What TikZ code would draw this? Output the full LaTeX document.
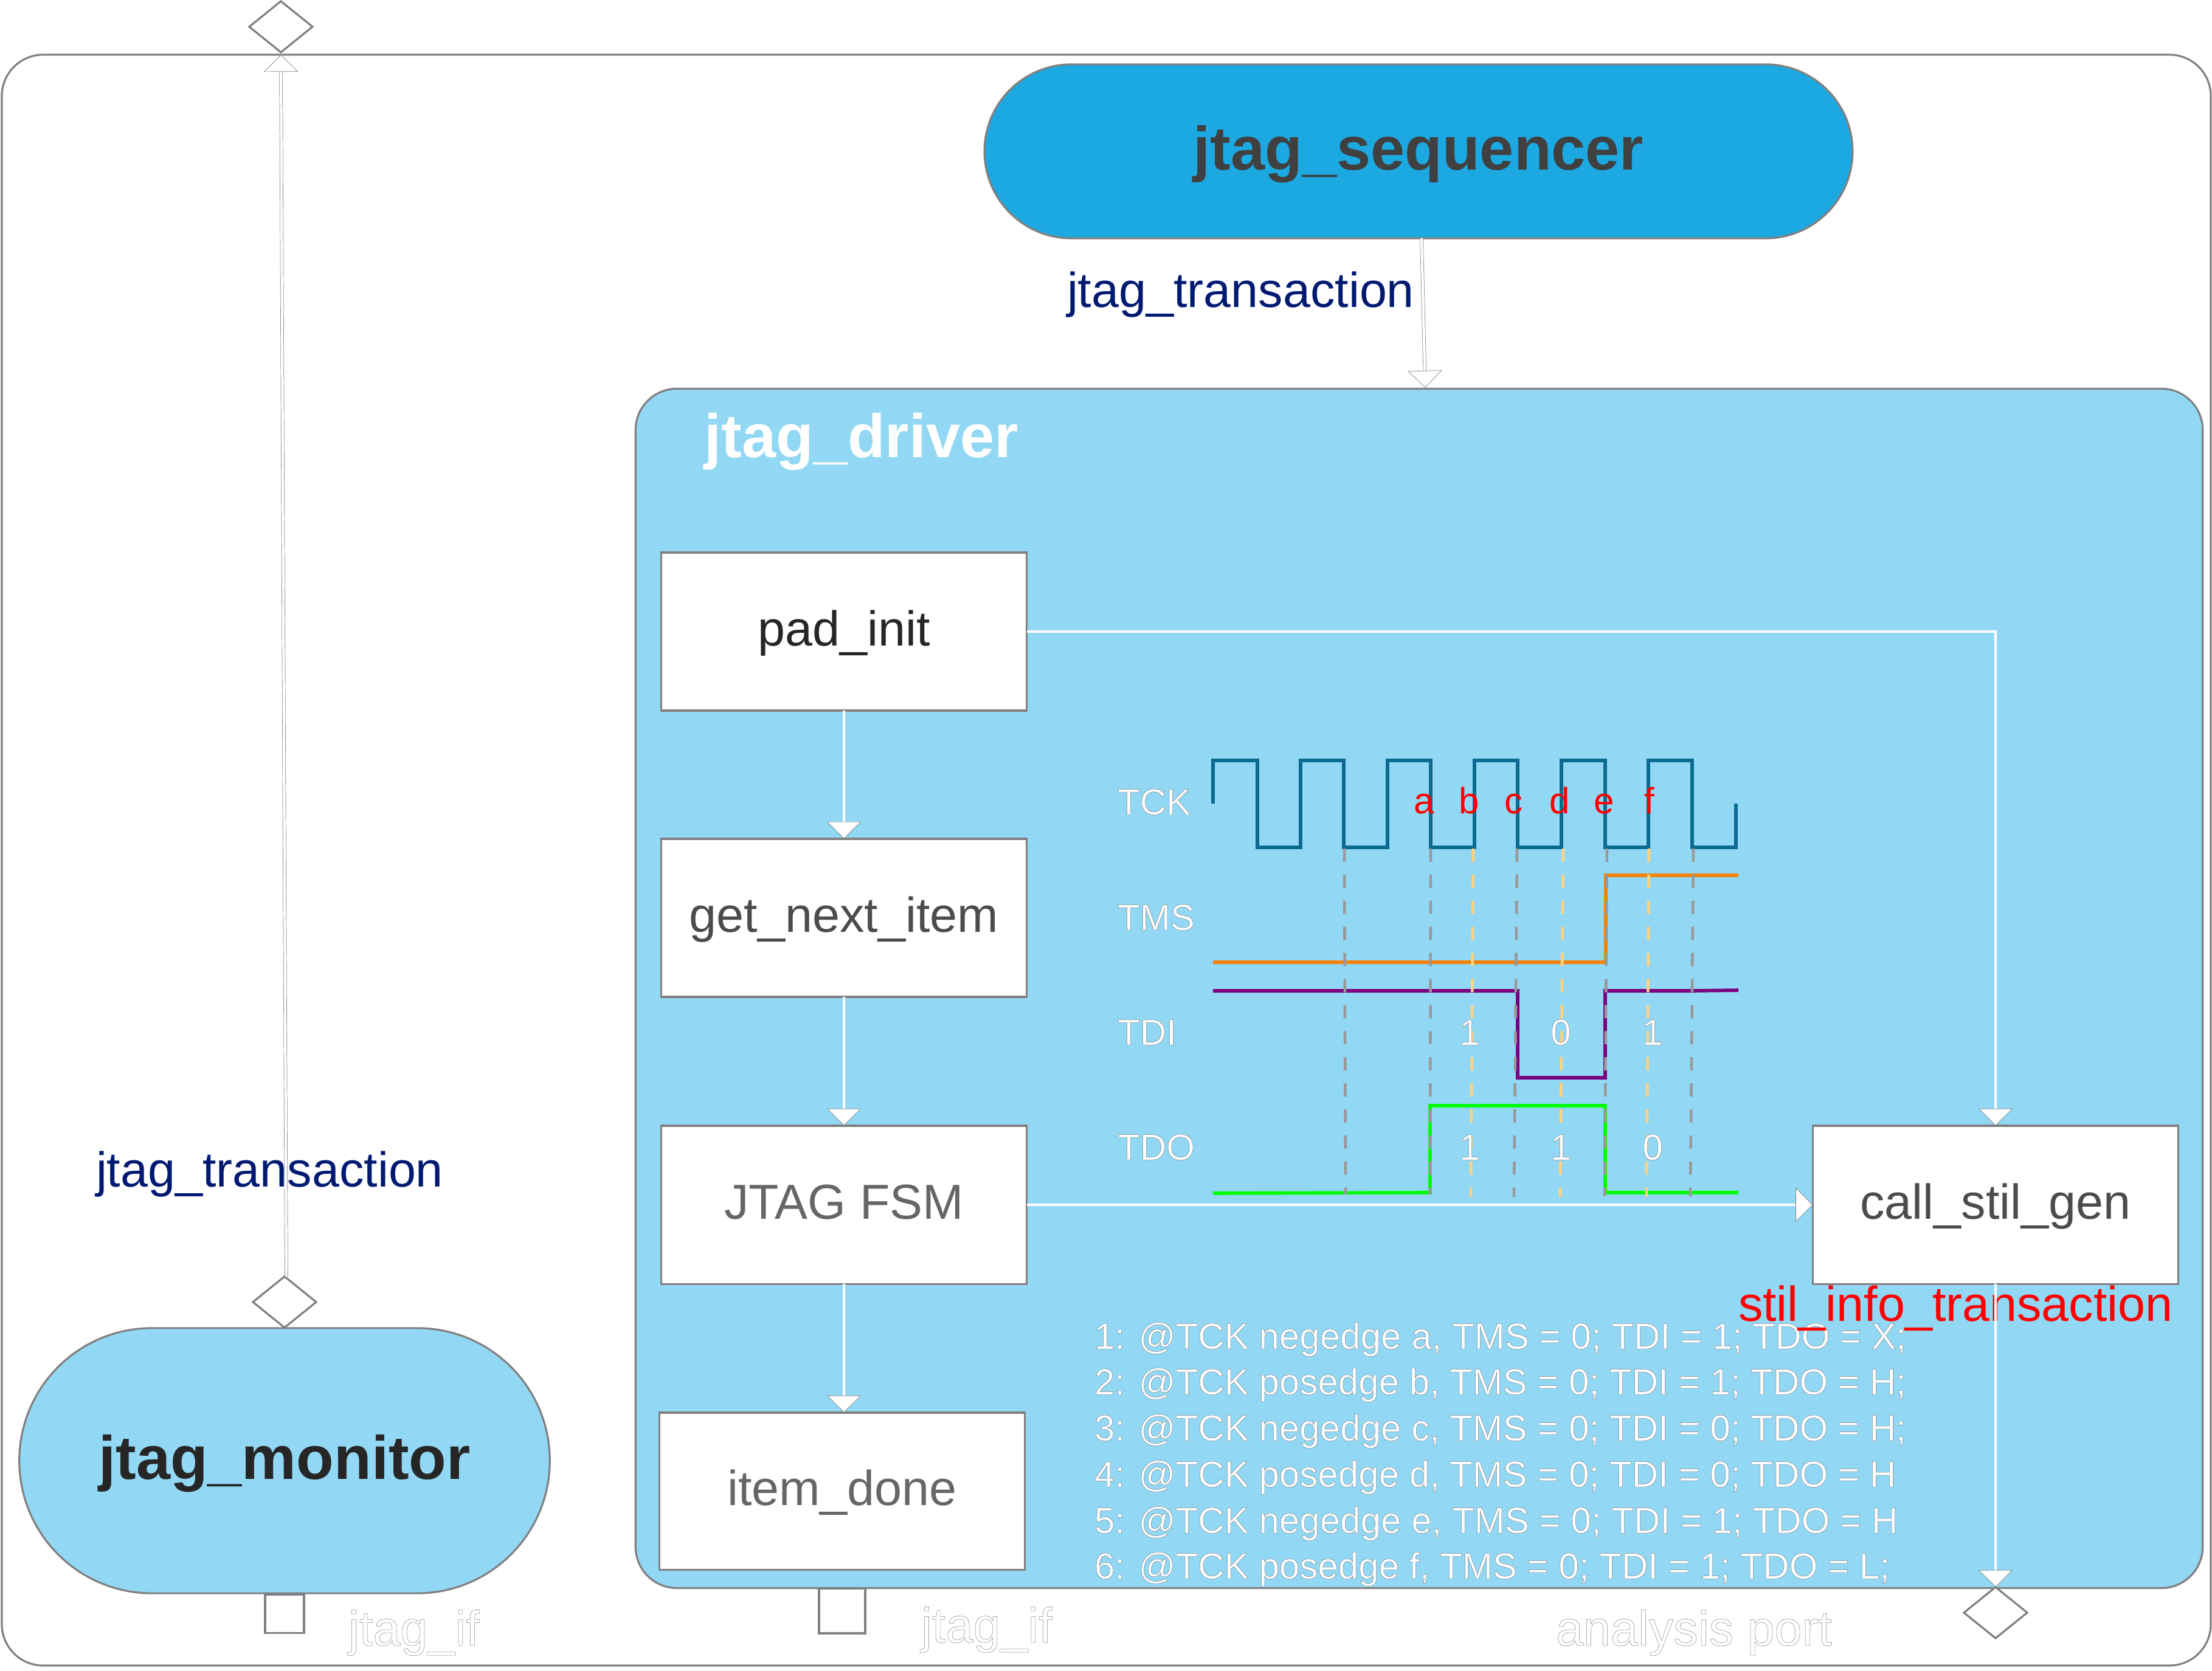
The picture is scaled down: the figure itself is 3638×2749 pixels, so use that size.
\documentclass[tikz,border=0pt]{standalone}
\usepackage{fontspec}
\setmainfont{Liberation Sans}
\usetikzlibrary{arrows.meta,shapes.geometric}

\definecolor{seqblue}{HTML}{1CA9E1}
\definecolor{drvblue}{HTML}{92D8F5}
\definecolor{edgegray}{HTML}{808080}
\definecolor{labelnavy}{HTML}{001A72}
\definecolor{tckteal}{HTML}{0B6A90}
\definecolor{tmsorange}{HTML}{F58200}
\definecolor{tdipurple}{HTML}{7A0080}
\definecolor{dashgray}{HTML}{999999}
\definecolor{dashyellow}{HTML}{FFD27F}

% white letters with a thin grey edge
\newcommand{\outl}[1]{{\color{white}\special{pdf:code 2 Tr .14 w .5 .5 .5 RG}#1\special{pdf:code 0 Tr}}}

\tikzset{
  bigfont/.style={font=\fontsize{23}{27}\selectfont},
  smallfont/.style={font=\fontsize{17.1}{20}\selectfont},
  boldfont/.style={font=\fontsize{28.7}{33}\selectfont\bfseries},
  edge/.style={draw=edgegray, line width=0.9pt},
  stadium/.style={edge, inner sep=0pt, outer sep=0pt, text height=23pt, text depth=5.7pt},
  itembox/.style={edge, fill=white, bigfont, minimum width=6.01cm, minimum height=2.6cm, inner sep=0pt, outer sep=0pt, text height=18.2pt, text depth=4.6pt},
  portdiamond/.style={edge, fill=white, diamond, aspect=1.2, minimum width=1.04cm, minimum height=.84cm, inner sep=0pt, outer sep=0pt},
  portsquare/.style={edge, fill=white, inner sep=0pt, outer sep=0pt},
  freetext/.style={bigfont, anchor=base west, inner sep=0pt, outer sep=0pt},
  wavelabel/.style={smallfont, anchor=base west, inner sep=0pt, outer sep=0pt},
  bitlabel/.style={smallfont, anchor=base, inner sep=0pt, outer sep=0pt},
  redlabel/.style={smallfont, red, anchor=base, inner sep=0pt, outer sep=0pt},
  listline/.style={smallfont, anchor=base west, inner sep=0pt, outer sep=0pt},
  wave/.style={line width=1.6pt, line join=miter},
  griddash/.style={draw=dashgray, line width=1.3pt, dash pattern=on 6.2pt off 6pt},
  yellowdash/.style={griddash, draw=dashyellow},
  flow/.style={draw=white, line width=1.3pt, -{Triangle[length=8pt,width=16pt,fill=white,color=edgegray,line width=.2pt]}},
  hollowflow/.style={draw=gray, line width=.2pt, double=white, double distance=1.2pt, -{Triangle[length=8pt,width=16pt,fill=white,color=gray,line width=.2pt]}}
}

\begin{document}
\begin{tikzpicture}[x=0.01cm, y=-0.01cm]
  \useasboundingbox (0,0) rectangle (3638,2749);

  % outer frame and the two blue blocks
  \draw[edge, rounded corners=.68cm] (3,90) rectangle (3636,2740);
  \node[stadium, fill=seqblue, minimum width=14.27cm, minimum height=2.86cm, rounded corners=1.43cm, boldfont, text=black!75] (sequencer) at (2333,249) {jtag\_sequencer};
  \node[stadium, fill=drvblue, minimum width=25.76cm, minimum height=19.72cm, rounded corners=.68cm] (driver) at (2334,1626) {};
  \node[stadium, fill=drvblue, minimum width=8.72cm, minimum height=4.36cm, rounded corners=2.18cm, boldfont, text=black!85] (monitor) at (468,2403) {jtag\_monitor};

  % ports
  \node[portdiamond] (topport) at (462,44) {};
  \node[portdiamond] (monport) at (468,2142) {};
  \node[portdiamond] (anaport) at (3282,2653) {};
  \node[portsquare, minimum width=.64cm, minimum height=.63cm] (monif) at (468,2655) {};
  \node[portsquare, minimum width=.76cm, minimum height=.74cm] (drvif) at (1385,2650) {};

  % sequence boxes
  \node[itembox, text=black!85] (padinit) at (1388,1039) {pad\_init};
  \node[itembox, text=black!70] (nextitem) at (1388,1510) {get\_next\_item};
  \node[itembox, text=black!60] (jtagfsm) at (1388,1982) {JTAG FSM};
  \node[itembox, text=black!60, minimum height=2.58cm] (itemdone) at (1385,2453) {item\_done};
  \node[itembox, text=black!70] (stilgen) at (3282,1982) {call\_stil\_gen};

  % free labels
  \node[boldfont, anchor=base west, inner sep=0pt, text=white] (drvname) at (1158,753) {jtag\_driver};
  \node[freetext, labelnavy] (seqtrans) at (1755,506) {jtag\_transaction};
  \node[freetext, labelnavy] (montrans) at (158,1952) {jtag\_transaction};
  \node[freetext] (monifname) at (573,2707) {\outl{jtag\_if}};
  \node[freetext] (drvifname) at (1515,2702) {\outl{jtag\_if}};
  \node[freetext] (portname) at (2559,2707) {\outl{analysis port}};

  \node[wavelabel] (tcklbl) at (1838,1340) {\outl{TCK}};
  \node[wavelabel] (tmslbl) at (1838,1530) {\outl{TMS}};
  \node[wavelabel] (tdilbl) at (1838,1719) {\outl{TDI}};
  \node[wavelabel] (tdolbl) at (1838,1908) {\outl{TDO}};

  % waveforms
  \draw[wave, tckteal] (1995,1322) -- (1995,1251) -- (2068,1251) -- (2068,1394) -- (2139,1394) -- (2139,1251) -- (2210,1251) -- (2210,1394) -- (2282,1394) -- (2282,1251) -- (2353,1251) -- (2353,1394) -- (2425,1394) -- (2425,1251) -- (2496,1251) -- (2496,1394) -- (2568,1394) -- (2568,1251) -- (2640,1251) -- (2640,1394) -- (2711,1394) -- (2711,1251) -- (2783,1251) -- (2783,1394) -- (2855,1394) -- (2855,1322);
  \draw[wave, tmsorange] (1995,1583) -- (2641,1583) -- (2641,1440) -- (2859,1440);
  \draw[wave, tdipurple] (1995,1630) -- (2496,1630) -- (2496,1773) -- (2640,1773) -- (2640,1630) -- (2784,1630) -- (2859,1629);
  \draw[wave, green] (1995,1963) -- (2352,1962) -- (2352,1819) -- (2640,1819) -- (2640,1962) -- (2859,1962);
  \draw[griddash] (2211,1396) -- (2213,1965);
  \draw[griddash] (2353,1396) -- (2352,1965);
  \draw[griddash] (2495,1396) -- (2490,1969);
  \draw[griddash] (2643,1396) -- (2639,1968);
  \draw[griddash] (2785,1396) -- (2780,1968);
  \draw[yellowdash] (2423,1396) -- (2419,1969);
  \draw[yellowdash] (2571,1396) -- (2566,1969);
  \draw[yellowdash] (2712,1396) -- (2708,1969);

  % event letters and bit values
  \node[redlabel] (eva) at (2342,1338) {a};
  \node[redlabel] (evb) at (2416,1338) {b};
  \node[redlabel] (evc) at (2490,1338) {c};
  \node[redlabel] (evd) at (2565,1338) {d};
  \node[redlabel] (eve) at (2638,1338) {e};
  \node[redlabel] (evf) at (2713,1338) {f};
  \node[bitlabel] (tdia) at (2417,1719) {\outl{1}};
  \node[bitlabel] (tdib) at (2567,1719) {\outl{0}};
  \node[bitlabel] (tdic) at (2718,1719) {\outl{1}};
  \node[bitlabel] (tdoa) at (2417,1908) {\outl{1}};
  \node[bitlabel] (tdob) at (2567,1908) {\outl{1}};
  \node[bitlabel] (tdoc) at (2718,1908) {\outl{0}};

  % step list
  \node[listline] (stepa) at (1800,2219) {\outl{1: @TCK negedge a, TMS = 0; TDI = 1; TDO = X;}};
  \node[listline] (stepb) at (1800,2294) {\outl{2: @TCK posedge b, TMS = 0; TDI = 1; TDO = H;}};
  \node[listline] (stepc) at (1800,2370) {\outl{3: @TCK negedge c, TMS = 0; TDI = 0; TDO = H;}};
  \node[listline] (stepd) at (1800,2446) {\outl{4: @TCK posedge d, TMS = 0; TDI = 0; TDO = H}};
  \node[listline] (stepe) at (1800,2522) {\outl{5: @TCK negedge e, TMS = 0; TDI = 1; TDO = H}};
  \node[listline] (stepf) at (1800,2597) {\outl{6: @TCK posedge f, TMS = 0; TDI = 1; TDO = L;}};
  \node[freetext, red] (stiltrans) at (2859,2173) {stil\_info\_transaction};

  % connectors
  \coordinate (seqout) at (2338,392);
  \coordinate (drvin) at (2344,638);
  \draw[hollowflow] (seqout) -- (drvin);
  \coordinate (monout) at (471,2100);
  \coordinate (frameout) at (462,90);
  \draw[hollowflow] (monout) -- (frameout);
  \draw[flow] (padinit.south) -- (nextitem.north);
  \draw[flow] (nextitem.south) -- (jtagfsm.north);
  \draw[flow] (jtagfsm.south) -- (jtagfsm.south |- itemdone.north);
  \draw[flow] (padinit.east) -| (stilgen.north);
  \draw[flow] (jtagfsm.east) -- (stilgen.west);
  \draw[flow] (stilgen.south) -- (anaport.north);
\end{tikzpicture}
\end{document}
